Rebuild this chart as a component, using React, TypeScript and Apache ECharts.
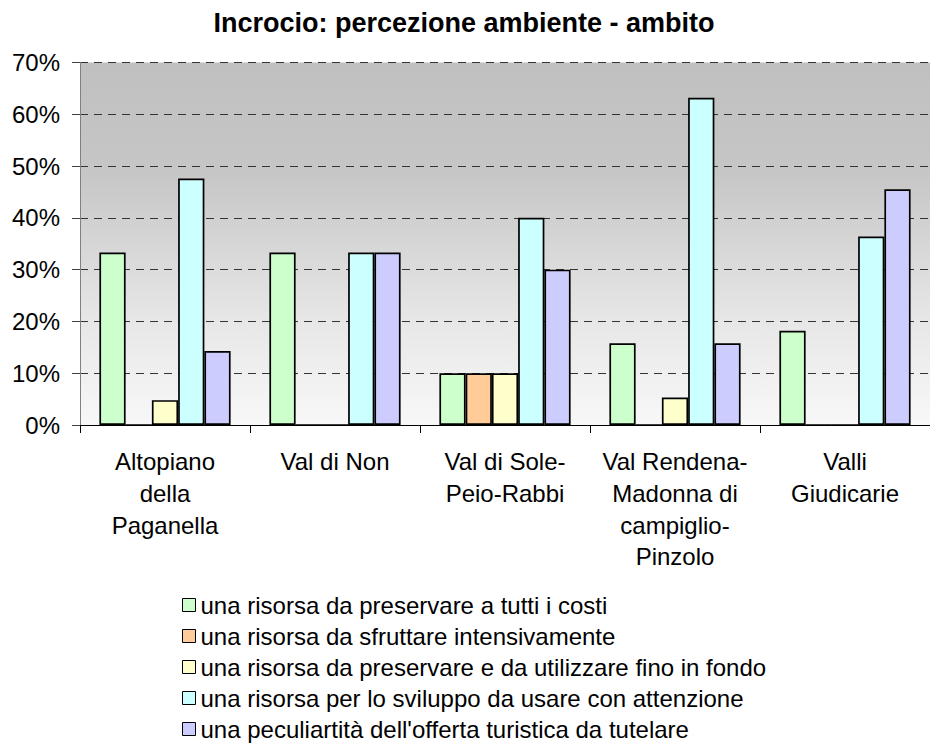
import React, { useEffect, useRef } from "react";
import * as echarts from "echarts";

const categories = [
  "Altopiano\ndella\nPaganella",
  "Val di Non",
  "Val di Sole-\nPeio-Rabbi",
  "Val Rendena-\nMadonna di\ncampiglio-\nPinzolo",
  "Valli\nGiudicarie",
];

const seriesNames = [
  "una risorsa da preservare a tutti i costi",
  "una risorsa da sfruttare intensivamente",
  "una risorsa da preservare e da utilizzare fino in fondo",
  "una risorsa per lo sviluppo da usare con attenzione",
  "una peculiartità dell'offerta turistica da tutelare",
];

const preservareTuttiCosti = [33.3, 33.3, 10, 15.8, 18.2];
const sfruttareIntensivamente = [0, 0, 10, 0, 0];
const preservareUtilizzare = [4.8, 0, 10, 5.3, 0];
const sviluppoAttenzione = [47.6, 33.3, 40, 63.2, 36.4];
const peculiarita = [14.3, 33.3, 30, 15.8, 45.5];

const seriesValues = [
  preservareTuttiCosti,
  sfruttareIntensivamente,
  preservareUtilizzare,
  sviluppoAttenzione,
  peculiarita,
];

const colors = ["#ccffcc", "#ffcc99", "#ffffcc", "#ccffff", "#ccccff"];

const yTicks = { min: 0, max: 70, interval: 10 };

const FONT = "'Liberation Sans', Arial, Helvetica, sans-serif";

export default function App() {
  const ref = useRef<HTMLDivElement>(null);

  useEffect(() => {
    if (!ref.current) return;
    const chart = echarts.init(ref.current, undefined, { renderer: "svg" });
    chart.setOption({
      animation: false,
      backgroundColor: "#ffffff",
      title: {
        text: "Incrocio: percezione ambiente - ambito",
        left: 459,
        textAlign: "center",
        top: 4,
        textStyle: {
          fontFamily: FONT,
          fontSize: 27,
          fontWeight: "bold",
          color: "#000",
        },
      },
      legend: {
        orient: "vertical",
        left: 182,
        top: 593,
        padding: 0,
        itemGap: 7,
        itemWidth: 13,
        itemHeight: 13,
        icon: "rect",
        itemStyle: { borderColor: "#000", borderWidth: 1 },
        textStyle: {
          fontFamily: FONT,
          fontSize: 24,
          lineHeight: 24,
          color: "#000",
        },
        data: seriesNames,
      },
      grid: {
        left: 80,
        top: 62.5,
        right: -11.5,
        bottom: 330,
        show: true,
        borderWidth: 0,
        backgroundColor: {
          type: "linear",
          x: 0,
          y: 0,
          x2: 0,
          y2: 1,
          colorStops: [
            { offset: 0, color: "#c0c0c0" },
            { offset: 0.3, color: "#c6c6c6" },
            { offset: 0.7, color: "#e6e6e6" },
            { offset: 1, color: "#f8f8f8" },
          ],
        },
      },
      xAxis: {
        type: "category",
        data: categories,
        axisLine: { show: true, lineStyle: { color: "#000", width: 1 } },
        axisTick: {
          show: true,
          alignWithLabel: false,
          length: 8,
          lineStyle: { color: "#000" },
        },
        axisLabel: {
          interval: 0,
          margin: 21,
          fontFamily: FONT,
          fontSize: 24,
          lineHeight: 31.7,
          color: "#000",
          align: "center",
        },
      },
      yAxis: {
        type: "value",
        min: yTicks.min,
        max: yTicks.max,
        interval: yTicks.interval,
        axisLine: { show: true, lineStyle: { color: "#808080", width: 1 } },
        axisTick: { show: true, length: 8, lineStyle: { color: "#404040" } },
        axisLabel: {
          formatter: "{value}%",
          margin: 20,
          fontFamily: FONT,
          fontSize: 24,
          color: "#000",
        },
        splitLine: {
          show: true,
          lineStyle: { color: "#333", width: 1, type: [8, 6] },
        },
      },
      series: seriesNames.map((name, i) => ({
        name,
        type: "bar",
        data: seriesValues[i],
        barGap: "0%",
        barCategoryGap: "22.8%",
        itemStyle: {
          color: colors[i],
          borderColor: "#000",
          borderWidth: 1.7,
        },
      })),
    });
    return () => chart.dispose();
  }, []);

  return (
    <div
      ref={ref}
      style={{ position: "absolute", left: 0, top: 0, width: 930, height: 755 }}
    />
  );
}
